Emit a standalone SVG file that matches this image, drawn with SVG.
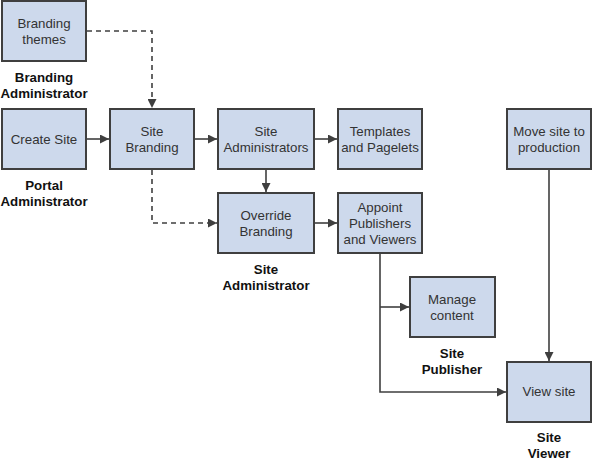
<svg xmlns="http://www.w3.org/2000/svg" width="592" height="462" viewBox="0 0 592 462">
<style>
.box{fill:#cdd9ec;stroke:#3f3f3f;stroke-width:2}
.t{font-family:"Liberation Sans",Arial,sans-serif;font-size:13.3px;fill:#333;text-anchor:middle}
.b{font-family:"Liberation Sans",Arial,sans-serif;font-size:13.3px;font-weight:bold;fill:#111;text-anchor:middle}
.c{fill:none;stroke:#3f3f3f;stroke-width:1.6}
.d{stroke-dasharray:5,4}
</style>
<defs>
<marker id="ah" viewBox="0 0 10 10" refX="10" refY="5" markerWidth="9" markerHeight="9" markerUnits="userSpaceOnUse" orient="auto">
<path d="M0,0 L10,5 L0,10 z" fill="#3f3f3f"/>
</marker>
</defs>
<rect width="592" height="462" fill="#fff"/>
<g id="connectors">
<path class="c d" d="M87,31 H152 V108" marker-end="url(#ah)"/>
<path class="c" d="M87,139 H109" marker-end="url(#ah)"/>
<path class="c" d="M195,139 H217" marker-end="url(#ah)"/>
<path class="c" d="M315,139 H337" marker-end="url(#ah)"/>
<path class="c" d="M266,170 V192" marker-end="url(#ah)"/>
<path class="c d" d="M152,170 V223 H217" marker-end="url(#ah)"/>
<path class="c" d="M315,223 H337" marker-end="url(#ah)"/>
<path class="c" d="M380,254 V392 H506" marker-end="url(#ah)"/>
<path class="c" d="M380,307 H409" marker-end="url(#ah)"/>
<path class="c" d="M549,170 V361" marker-end="url(#ah)"/>
</g>
<g id="branding-themes"><rect class="box" x="2" y="1" width="84" height="60"/><text class="t" x="44" y="28">Branding</text><text class="t" x="44" y="44">themes</text></g>
<g id="create-site"><rect class="box" x="2" y="109" width="84" height="60"/><text class="t" x="44" y="144">Create Site</text></g>
<g id="site-branding"><rect class="box" x="110" y="109" width="84" height="60"/><text class="t" x="152" y="136">Site</text><text class="t" x="152" y="152">Branding</text></g>
<g id="site-administrators"><rect class="box" x="218" y="109" width="96" height="60"/><text class="t" x="266" y="136">Site</text><text class="t" x="266" y="152">Administrators</text></g>
<g id="templates"><rect class="box" x="338" y="109" width="84" height="60"/><text class="t" x="380" y="136">Templates</text><text class="t" x="380" y="152">and Pagelets</text></g>
<g id="override-branding"><rect class="box" x="218" y="193" width="96" height="60"/><text class="t" x="266" y="220">Override</text><text class="t" x="266" y="236">Branding</text></g>
<g id="appoint"><rect class="box" x="338" y="193" width="84" height="60"/><text class="t" x="380" y="212">Appoint</text><text class="t" x="380" y="228">Publishers</text><text class="t" x="380" y="244">and Viewers</text></g>
<g id="manage-content"><rect class="box" x="410" y="277" width="85" height="60"/><text class="t" x="452" y="304">Manage</text><text class="t" x="452" y="320">content</text></g>
<g id="move-site"><rect class="box" x="507" y="109" width="84" height="60"/><text class="t" x="549" y="136">Move site to</text><text class="t" x="549" y="152">production</text></g>
<g id="view-site"><rect class="box" x="507" y="362" width="84" height="60"/><text class="t" x="549" y="396">View site</text></g>
<g id="roles">
<text class="b" x="44" y="82">Branding</text><text class="b" x="44" y="98">Administrator</text>
<text class="b" x="44" y="190">Portal</text><text class="b" x="44" y="206">Administrator</text>
<text class="b" x="266" y="274">Site</text><text class="b" x="266" y="290">Administrator</text>
<text class="b" x="452" y="358">Site</text><text class="b" x="452" y="374">Publisher</text>
<text class="b" x="549" y="442">Site</text><text class="b" x="549" y="458">Viewer</text>
</g>
</svg>
